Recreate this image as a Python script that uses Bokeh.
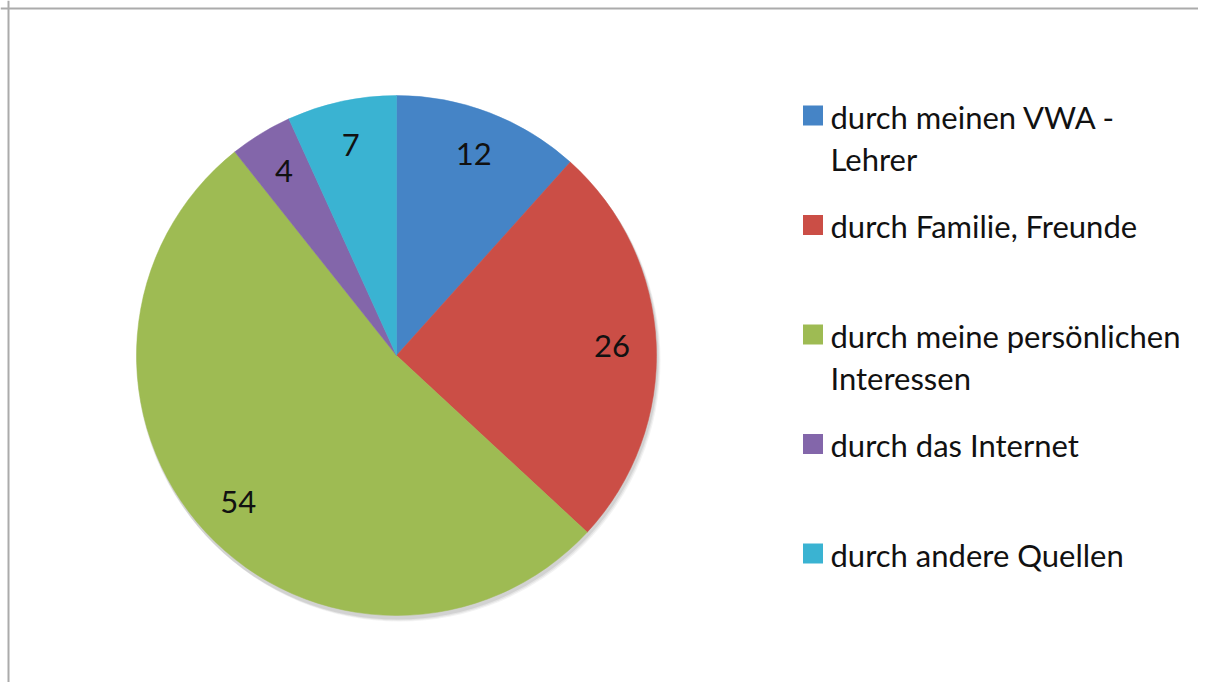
import numpy as np
from bokeh.plotting import figure
from bokeh.models import Range1d, Span, ColumnDataSource
from bokeh.core.properties import value
from bokeh.embed import file_html
from bokeh.resources import INLINE

# ---- data ----
categories = [
    "durch meinen VWA - Lehrer",
    "durch Familie, Freunde",
    "durch meine persönlichen Interessen",
    "durch das Internet",
    "durch andere Quellen",
]
legend_lines = [
    ["durch meinen VWA -", "Lehrer"],
    ["durch Familie, Freunde"],
    ["durch meine persönlichen", "Interessen"],
    ["durch das Internet"],
    ["durch andere Quellen"],
]
values = [12, 26, 54, 4, 7]
colors = ["#4584c6", "#cb4e46", "#9ebb53", "#8366aa", "#3ab3d2"]

# ---- layout ----
W, H = 1198, 682
CX, CY, R = 396, 327, 260
LABEL_FRAC = 0.83
FONT = "Lato"
FS = "31px"

p = figure(width=W, height=H, output_backend="svg", toolbar_location=None,
           x_range=Range1d(0, W), y_range=Range1d(0, H), min_border=0)
p.axis.visible = False
p.grid.visible = False
p.outline_line_color = None
p.background_fill_color = "white"
p.border_fill_color = "white"

vals = np.array(values, dtype=float)
frac = vals / vals.sum()
cum_end = np.cumsum(frac) * 2 * np.pi
cum_start = cum_end - frac * 2 * np.pi
start = np.pi / 2 - cum_start
end = np.pi / 2 - cum_end
mid = np.pi / 2 - (cum_start + cum_end) / 2

# soft shadow
for dx, dy, a in [(3, -5, 0.08), (2, -4, 0.10), (1, -3, 0.13)]:
    p.circle(x=[CX + dx], y=[CY + dy], radius=R + 1, fill_color="#606060",
             fill_alpha=a, line_color=None)

src = ColumnDataSource(dict(start=start, end=end, color=colors, cat=categories,
                            val=values))
p.wedge(x=CX, y=CY, radius=R, start_angle="start", end_angle="end",
        direction="clock", fill_color="color", line_color="color",
        line_width=0.5, source=src)

lab = ColumnDataSource(dict(
    x=CX + LABEL_FRAC * R * np.cos(mid),
    y=CY + LABEL_FRAC * R * np.sin(mid),
    t=[str(v) for v in values]))
p.text(x="x", y="y", text="t", source=lab, text_align="center",
       text_baseline="middle", text_font=value(FONT), text_font_size=FS,
       text_color="#111111")

# legend
LX, LY0, LSTEP, SQ = 812.5, 567, 109.5, 20
TX, BASE_OFF, LINE_H = 830, -1, 42
sq_y = [LY0 - i * LSTEP for i in range(len(categories))]
p.rect(x=[LX] * len(colors), y=sq_y, width=SQ, height=SQ, fill_color=colors,
       line_color=None)
tx, ty, tt = [], [], []
for i, lines in enumerate(legend_lines):
    for j, ln in enumerate(lines):
        tx.append(TX)
        ty.append(sq_y[i] + BASE_OFF - j * LINE_H)
        tt.append(ln)
p.text(x=tx, y=ty, text=tt, text_align="left", text_baseline="alphabetic",
       text_font=value(FONT), text_font_size=FS, text_color="#111111")

# chart border (top and left visible)
p.add_layout(Span(location=H - 8, dimension="width", line_color="#ababab", line_width=2))
p.add_layout(Span(location=8, dimension="height", line_color="#ababab", line_width=2))

open("out.html", "w").write(file_html(p, INLINE))
